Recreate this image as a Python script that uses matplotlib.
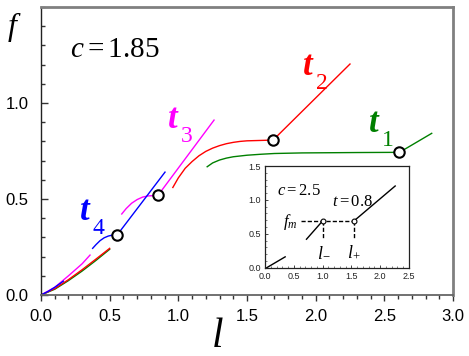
import matplotlib
matplotlib.use("Agg")
import matplotlib.pyplot as plt
from matplotlib.ticker import MultipleLocator

plt.rcParams['mathtext.fontset'] = 'custom'
plt.rcParams['mathtext.rm'] = 'Liberation Serif'
plt.rcParams['mathtext.it'] = 'Liberation Serif:italic'
plt.rcParams['mathtext.bf'] = 'Liberation Serif:bold'
plt.rcParams['mathtext.bfit'] = 'Liberation Serif:italic:bold'

# ---------------- data (main panel, c = 1.85) ----------------
# t1 (green)
t1_a_x = [0, 0.1, 0.2, 0.3, 0.4, 0.5]
t1_a_y = [0, 0.03, 0.075, 0.125, 0.18, 0.238]
t1_b_x = [1.21, 1.25, 1.3, 1.35, 1.4, 1.5, 1.6, 1.7, 1.9, 2.1, 2.3, 2.61]
t1_b_y = [0.668, 0.688, 0.703, 0.713, 0.72, 0.728, 0.733, 0.737, 0.74, 0.741, 0.742, 0.743]
t1_c_x = [2.61, 2.845]
t1_c_y = [0.743, 0.842]
# t2 (red)
t2_a_x = [0, 0.1, 0.2, 0.3, 0.4, 0.5]
t2_a_y = [0, 0.033, 0.08, 0.132, 0.187, 0.243]
t2_b_x = [0.96, 1.0, 1.05, 1.1, 1.15, 1.2, 1.25, 1.3, 1.35, 1.4, 1.45, 1.5, 1.6, 1.69]
t2_b_y = [0.56, 0.61, 0.66, 0.695, 0.725, 0.748, 0.765, 0.778, 0.788, 0.795, 0.80, 0.803, 0.805, 0.807]
t2_c_x = [1.69, 2.25]
t2_c_y = [0.807, 1.203]
# t3 (magenta)
t3_a_x = [0, 0.1, 0.2, 0.3, 0.357]
t3_a_y = [0, 0.04, 0.1, 0.163, 0.208]
t3_b_x = [0.588, 0.62, 0.66, 0.7, 0.74, 0.78, 0.852]
t3_b_y = [0.422, 0.45, 0.478, 0.497, 0.51, 0.516, 0.519]
t3_c_x = [0.852, 1.26]
t3_c_y = [0.519, 0.911]
# t4 (blue)
t4_a_x = [0, 0.05, 0.1, 0.163]
t4_a_y = [0, 0.018, 0.04, 0.072]
t4_b_x = [0.376, 0.4, 0.43, 0.46, 0.49, 0.52, 0.556]
t4_b_y = [0.243, 0.262, 0.283, 0.298, 0.307, 0.312, 0.314]
t4_c_x = [0.556, 0.903]
t4_c_y = [0.314, 0.64]

# transition points (open circles)
circ_x = [2.61, 1.69, 0.852, 0.556]
circ_y = [0.743, 0.807, 0.519, 0.314]

# ---------------- inset data (c = 2.5, t = 0.8) ----------------
in_a_x = [0.03, 0.35]
in_a_y = [0.0, 0.16]
in_b_x = [0.72, 1.0]
in_b_y = [0.42, 0.69]
in_c_x = [1.545, 2.26]
in_c_y = [0.69, 1.205]
l_minus = 1.0
l_plus = 1.545
f_m = 0.69
f_m_start = 0.63
dash_bottom = 0.42

x_ticks = [0.0, 0.5, 1.0, 1.5, 2.0, 2.5, 3.0]
y_ticks = [0.0, 0.5, 1.0]
in_x_ticks = [0.0, 0.5, 1.0, 1.5, 2.0, 2.5]
in_y_ticks = [0.0, 0.5, 1.0, 1.5]

GREEN = '#008000'
RED = '#ff0000'
MAG = '#ff00ff'
BLUE = '#0000ff'

fig = plt.figure(figsize=(4.69, 3.56), dpi=100)
ax = fig.add_axes([41/469, 1 - 295/356, 412/469, 288/356])

lw = 1.0
for xs, ys in [(t1_a_x, t1_a_y), (t1_b_x, t1_b_y), (t1_c_x, t1_c_y)]:
    ax.plot(xs, ys, color=GREEN, lw=lw)
for xs, ys in [(t2_a_x, t2_a_y), (t2_b_x, t2_b_y), (t2_c_x, t2_c_y)]:
    ax.plot(xs, ys, color=RED, lw=lw)
for xs, ys in [(t3_a_x, t3_a_y), (t3_b_x, t3_b_y), (t3_c_x, t3_c_y)]:
    ax.plot(xs, ys, color=MAG, lw=lw)
for xs, ys in [(t4_a_x, t4_a_y), (t4_b_x, t4_b_y), (t4_c_x, t4_c_y)]:
    ax.plot(xs, ys, color=BLUE, lw=lw)

ax.plot(circ_x, circ_y, 'o', ls='none', ms=7.5, mfc='white', mec='black', mew=1.5, zorder=5)

ax.set_xlim(0, 3.0)
ax.set_ylim(0, 1.5)
ax.set_xticks(x_ticks)
ax.set_xticklabels([f'{v:.1f}' for v in x_ticks])
ax.set_yticks(y_ticks)
ax.set_yticklabels([f'{v:.1f}' for v in y_ticks])
ax.xaxis.set_minor_locator(MultipleLocator(0.1))
ax.yaxis.set_minor_locator(MultipleLocator(0.1))
for lab in ax.get_xticklabels() + ax.get_yticklabels():
    lab.set_family('Liberation Sans')
    lab.set_fontsize(12)
ax.tick_params(axis='x', which='major', direction='out', length=4, width=1, pad=6, colors='#333333', labelcolor='black')
ax.tick_params(axis='x', which='minor', direction='out', length=3, width=1, colors='#333333')
ax.tick_params(axis='y', which='major', direction='in', length=5, width=1, pad=9, colors='#333333', labelcolor='black')
ax.tick_params(axis='y', which='minor', direction='in', length=3, width=1, colors='#333333')

ax.spines['top'].set_color('#808080')
ax.spines['top'].set_linewidth(2)
ax.spines['right'].set_color('#808080')
ax.spines['right'].set_linewidth(2)
ax.spines['left'].set_color('#222222')
ax.spines['left'].set_linewidth(1)
ax.spines['bottom'].set_color('#666666')
ax.spines['bottom'].set_linewidth(1.3)

# annotations
ax.text(0.211, 1.24, r'$c=1.85$', fontsize=21, ha='left', va='baseline')
sub_fs = 17
for (tx, ty, num, col) in [(1.90, 1.146, '2', RED), (2.38, 0.85, '1', GREEN),
                            (0.918, 0.87, '3', MAG), (0.277, 0.39, '4', BLUE)]:
    t = ax.text(tx, ty, r'$\mathbfit{t}$', fontsize=25, color=col, ha='left', va='baseline')
    ax.annotate(num, xy=(1, 0), xycoords=t, xytext=(1, -5), textcoords='offset points',
                fontsize=sub_fs, color=col, family='Liberation Serif', ha='left', va='baseline')

fig.text(12/469, 1 - 27/356, 'f', family='Liberation Serif', style='italic', fontsize=23, ha='center', va='center')
fig.text(218/469, 1 - 337/356, 'l', family='Liberation Serif', style='italic', fontsize=30, ha='center', va='center')

# ---------------- inset ----------------
axi = fig.add_axes([265/469, 1 - 267.7/356, 144/469, 101.7/356])
axi.set_facecolor('white')
ilw = 1.0
axi.plot(in_a_x, in_a_y, color='black', lw=ilw)
axi.plot(in_b_x, in_b_y, color='black', lw=ilw)
axi.plot(in_c_x, in_c_y, color='black', lw=ilw)
axi.plot([f_m_start, l_plus], [f_m, f_m], color='black', lw=1.0, ls=(0, (3, 1.5)))
axi.plot([l_minus, l_minus], [f_m, dash_bottom], color='black', lw=1.0, ls=(0, (3, 1.5)))
axi.plot([l_plus, l_plus], [f_m, dash_bottom], color='black', lw=1.0, ls=(0, (3, 1.5)))
axi.plot([l_minus, l_plus], [f_m, f_m], 'o', ls='none', ms=3.5, mfc='white', mec='black', mew=0.8, zorder=5)
axi.set_xlim(0, 2.5)
axi.set_ylim(0, 1.5)
axi.set_xticks(in_x_ticks)
axi.set_xticklabels([f'{v:.1f}' for v in in_x_ticks])
axi.set_yticks(in_y_ticks)
axi.set_yticklabels([f'{v:.1f}' for v in in_y_ticks])
axi.xaxis.set_minor_locator(MultipleLocator(0.1))
axi.yaxis.set_minor_locator(MultipleLocator(0.1))
for lab in axi.get_xticklabels() + axi.get_yticklabels():
    lab.set_family('Liberation Sans')
    lab.set_fontsize(6.5)
axi.tick_params(which='major', direction='in', length=2.5, width=0.7, pad=3, colors='#444444', labelcolor='#222222')
axi.tick_params(which='minor', direction='in', length=1.5, width=0.6, colors='#666666')
for s in axi.spines.values():
    s.set_linewidth(0.9)
    s.set_color('#222222')

axi.text(0.21, 1.07, r'$c=2.5$', fontsize=12, ha='left', va='baseline')
axi.text(1.16, 0.91, r'$t=0.8$', fontsize=12, ha='left', va='baseline')
axi.text(0.32, 0.62, r'$f_m$', fontsize=12, ha='left', va='baseline')
axi.text(0.9, 0.16, r'$l_{-}$', fontsize=13, ha='left', va='baseline')
axi.text(1.42, 0.16, r'$l_{+}$', fontsize=13, ha='left', va='baseline')

fig.savefig('out.png', dpi=100)
